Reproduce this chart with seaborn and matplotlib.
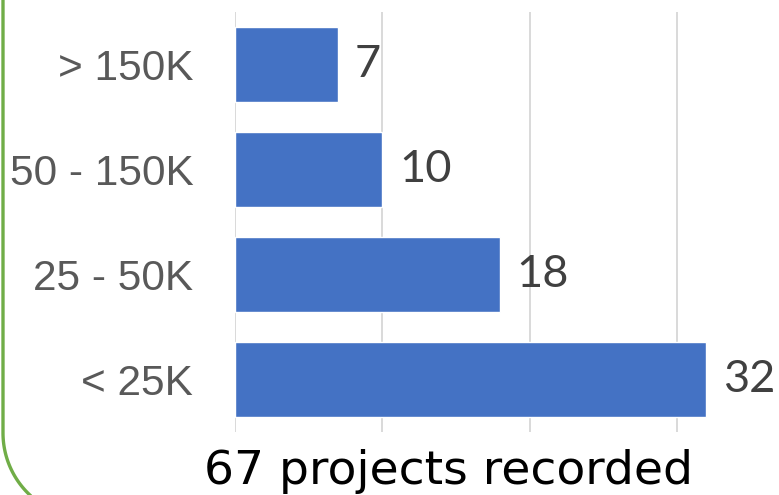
import numpy as np
import pandas as pd
import matplotlib
matplotlib.use("Agg")
import matplotlib.pyplot as plt
import seaborn as sns

# Project budget bands and how many projects fall in each
categories = ["> 150K", "50 - 150K", "25 - 50K", "< 25K"]
counts = [7, 10, 18, 32]
total_label = "67 projects recorded"
grid_ticks = [0, 10, 20, 30]

df = pd.DataFrame({"band": categories, "projects": counts})

sns.set_theme(style="white")

W, H = 779, 495
fig = plt.figure(figsize=(W / 100, H / 100), dpi=100)
fig.patch.set_facecolor("white")

# plot area in pixel terms: left edge at x=235, rows between y=12 and y=432
ax = fig.add_axes([235 / W, (H - 432) / H, (W - 235) / W, (432 - 12) / H])
sns.barplot(data=df, x="projects", y="band", orient="h", color="#4472C4",
            saturation=1, width=0.72, ax=ax, zorder=3)

ax.set_xlim(0, (W - 235) / 14.73)
ax.set_ylim(3.5, -0.5)
ax.set_xticks(grid_ticks)
ax.set_xticklabels([])
ax.tick_params(axis="x", length=0)
ax.tick_params(axis="y", length=0, pad=30, labelsize=30.5, labelcolor="#595959")
for lbl in ax.get_yticklabels():
    lbl.set_fontfamily("Liberation Sans")
ax.xaxis.grid(True, color="#D9D9D9", linewidth=1.4, zorder=0)
ax.yaxis.grid(False)
for s in ax.spines.values():
    s.set_visible(False)
ax.set_xlabel("")
ax.set_ylabel("")

for cont in ax.containers:
    ax.bar_label(cont, labels=[str(v) for v in counts], padding=12,
                 fontsize=32.5, color="#404040", fontfamily="Lato")

fig.text(448 / W, 11 / H, total_label, ha="center", va="baseline",
         fontsize=34, color="#000000", fontfamily="DejaVu Sans")

# rounded green frame edge on the left
deco = fig.add_axes([0, 0, 1, 1], zorder=-1)
deco.set_xlim(0, W)
deco.set_ylim(H, 0)
deco.axis("off")
deco.patch.set_alpha(0)
r = 85
t = np.linspace(0, np.pi / 2, 60)
xs = np.concatenate([[3, 3], 3 + r - r * np.cos(t)])
ys = np.concatenate([[-5, 433], 433 + r * np.sin(t)])
deco.plot(xs, ys, color="#70AD47", linewidth=2.4, solid_capstyle="butt")

fig.savefig("out.png", dpi=100, facecolor="white")
